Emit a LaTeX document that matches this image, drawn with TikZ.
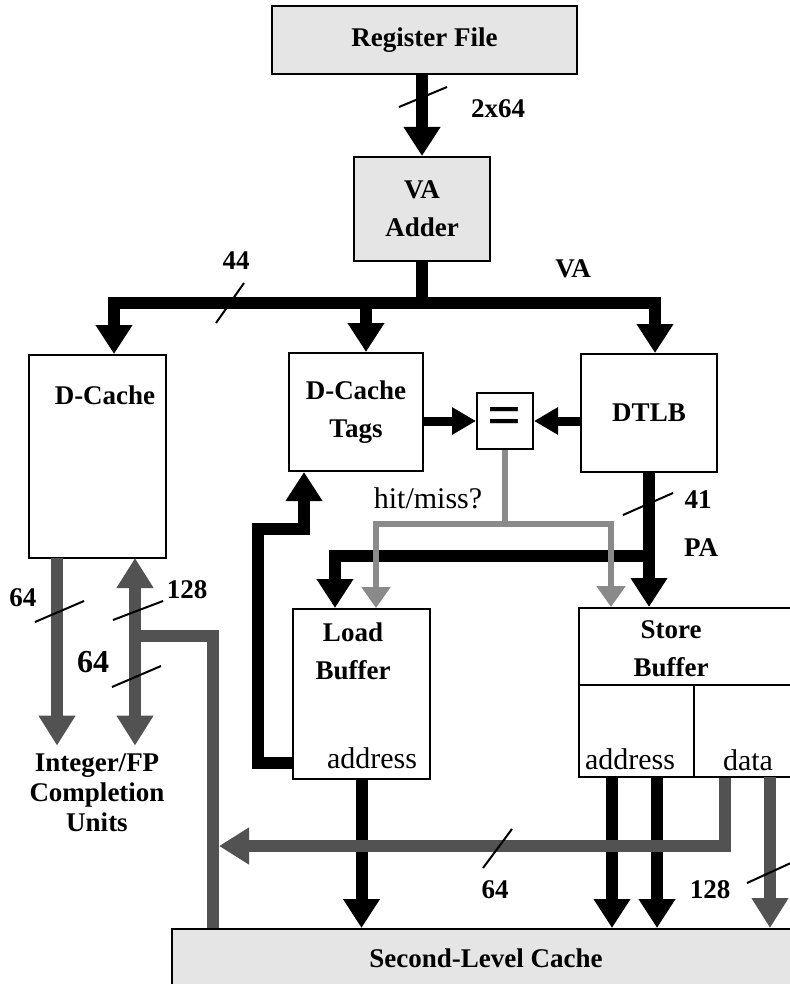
\documentclass[tikz,border=0pt]{standalone}
\usepackage{fontspec}
\setmainfont{Liberation Serif}
\usetikzlibrary{arrows.meta,positioning}

\definecolor{boxfill}{RGB}{229,229,229}
\definecolor{busgray}{RGB}{82,82,82}
\definecolor{hitgray}{RGB}{138,138,138}

\begin{document}
\begin{tikzpicture}[
  x=0.5pt, y=-0.5pt,
  font=\bfseries\fontsize{13.5}{19}\selectfont,
  blk/.style={draw,line width=1pt,inner sep=0pt,align=center},
  gbox/.style={blk,fill=boxfill},
  txt/.style={inner sep=0pt,align=center},
  rm/.style={txt,font=\mdseries\fontsize{15}{18}\selectfont},
  bk/.style={line width=6pt,-{Triangle[length=14.5pt,width=17.5pt]}},
  bkline/.style={line width=6pt},
  dg/.style={line width=6pt,busgray,-{Triangle[length=15pt,width=17.5pt]}},
  dgio/.style={line width=6pt,busgray,{Triangle[length=15pt,width=17.5pt]}-{Triangle[length=15pt,width=17.5pt]}},
  dgline/.style={line width=6pt,busgray},
  hm/.style={line width=3pt,hitgray,-{Triangle[length=10.5pt,width=14pt]}},
  cmp/.style={line width=4.5pt,-{Triangle[length=12pt,width=13pt]}},
  buswd/.style={line width=1pt}
]
\useasboundingbox (0,0) rectangle (789,984);

% units
\node[gbox,minimum width=152.5pt,minimum height=34pt] (regfile) at (424.5,40) {Register File};
\node[gbox,minimum width=68pt,minimum height=52pt] (adder) at (422,209) {VA\\Adder};
\node[blk,minimum width=68.5pt,minimum height=101.5pt] (dcache) at (97.5,456.5) {};
\node[txt] (dcachetxt) at (105,395) {D-Cache};
\node[blk,minimum width=67pt,minimum height=59pt] (tags) at (356,412) {D-Cache\\Tags};
\node[blk,minimum size=28pt] (eq) at (505,421) {\fontsize{30}{30}\selectfont =};
\node[blk,minimum width=68pt,minimum height=59pt] (dtlb) at (649,413) {DTLB};
\node[blk,minimum width=68.5pt,minimum height=85pt] (loadbuf) at (361.5,694) {};
\node[txt] (loadtxt) at (353,651) {Load\\Buffer};
\node[rm] (loadaddr) at (372,758) {address};
\node[blk,minimum width=110.5pt,minimum height=38.5pt] (storebuf) at (689.5,646.5) {};
\node[txt] (storetxt) at (671,649) {Store\\Buffer};
\node[blk,minimum width=57.5pt,minimum height=46pt] (storeaddr) at (636.5,731) {};
\node[blk,minimum width=53pt,minimum height=46pt] (storedata) at (747,731) {};
\node[rm] (saddrtxt) at (630,759) {address};
\node[rm] (sdatatxt) at (748,760) {data};
\node[gbox,minimum width=314pt,minimum height=29pt] (l2) at (486,958) {Second-Level Cache};
\node[txt,font=\bfseries\fontsize{13.5}{15}\selectfont] (units) at (97,793) {Integer/FP\\Completion\\Units};

% junctions
\coordinate (busL) at (114,303);
\coordinate (busM) at (366,303);
\coordinate (busR) at (655,303);
\coordinate (hitL) at (376,524);
\coordinate (hitR) at (611,524);
\coordinate (paL) at (335,556);
\coordinate (loopA) at (258,763);
\coordinate (loopB) at (258,529);
\coordinate (loopC) at (304,529);
\coordinate (dcout) at (57,558);
\coordinate (dcio) at (135,558);
\coordinate (refill) at (213,636);
\coordinate (wbA) at (612,777);
\coordinate (wbB) at (657,777);
\coordinate (wbD) at (725,846);
\coordinate (stD) at (770,777);
\coordinate (unitsin) at ([yshift=4pt]units.north);

% VA path
\draw[bk] (adder.north |- regfile.south) -- (adder.north);
\draw[bkline] (adder.south) -- (adder.south |- busL);
\draw[bk] (adder.south |- busL) -- (busL) -- (busL |- dcache.north);
\draw[bk] (adder.south |- busL) -- (busR) -- (busR |- dtlb.north);
\draw[bk] (busM) -- (busM |- tags.north);

% tag compare
\draw[cmp] (tags.east |- eq.west) -- (eq.west);
\draw[cmp] (dtlb.west |- eq.east) -- (eq.east);

% PA
\draw[bk] (dtlb.south) -- (dtlb.south |- storebuf.north);
\draw[bk] (dtlb.south |- paL) -- (paL) -- (paL |- loadbuf.north);

% hit/miss
\draw[hm] (eq.south) -- (eq.south |- hitL) -- (hitL) -- (hitL |- loadbuf.north);
\draw[hm] (eq.south |- hitL) -- (hitR) -- (hitR |- storebuf.north);

% load buffer back to tags
\draw[bk] (loadbuf.west |- loopA) -- (loopA) -- (loopB) -- (loopC) -- (loopC |- tags.south);

% into second-level cache
\draw[bk] (loadbuf.south) -- (loadbuf.south |- l2.north);
\draw[bk] (wbA) -- (wbA |- l2.north);
\draw[bk] (wbB) -- (wbB |- l2.north);

% D-cache data
\draw[dg] (dcout) -- (dcout |- unitsin);
\draw[dgio] (dcio) -- (dcio |- unitsin);
\draw[dgline] (dcio |- refill) -- (refill) -- (refill |- l2.north);
\draw[dg,shorten >=3pt] (storedata.south -| wbD) -- (wbD) -- (wbD -| refill);
\draw[dg] (stD) -- (stD |- l2.north);

% bus widths
\draw[buswd] (399,107) -- (447,87);
\draw[buswd] (216,323) -- (244,283);
\draw[buswd] (623,515) -- (673,493);
\draw[buswd] (35,622) -- (84,601);
\draw[buswd] (113,620) -- (163,601);
\draw[buswd] (112,687) -- (161,666);
\draw[buswd] (483,868) -- (512,829);
\draw[buswd] (747,883) -- (793,862);

\node[txt] (w2x64) at (498,109) {2x64};
\node[txt] (w44) at (236,261) {44};
\node[txt] (va) at (573,269) {VA};
\node[txt] (w41) at (698,500) {41};
\node[txt] (pa) at (701,548) {PA};
\node[txt] (w64a) at (23,598) {64};
\node[txt] (w128a) at (187,590) {128};
\node[txt,font=\bfseries\fontsize{16}{19}\selectfont] (w64b) at (93,662) {64};
\node[rm] (hit) at (428,498) {hit/miss?};
\node[txt] (w64c) at (495,890) {64};
\node[txt] (w128b) at (710,890) {128};
\end{tikzpicture}
\end{document}
